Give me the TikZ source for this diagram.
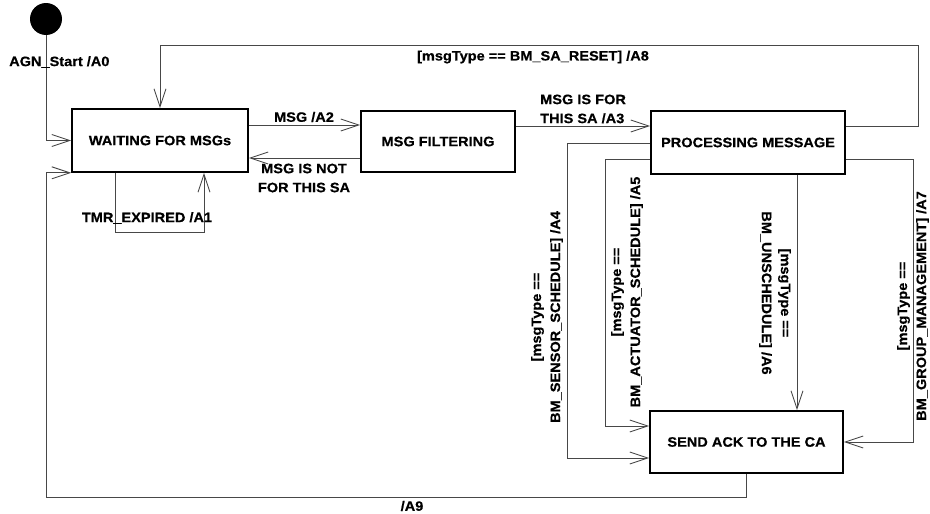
\documentclass[tikz,border=0pt]{standalone}
\usepackage{fontspec}
\setmainfont[FakeStretch=1.07,BoldFeatures={FakeBold=0.6}]{Liberation Sans}
\usetikzlibrary{arrows.meta}
\begin{document}
\begin{tikzpicture}[x=1pt,y=-1pt,
  font=\fontsize{13.6}{19}\selectfont\bfseries,
  state/.style={draw=black,line width=1.6pt,fill=white,inner sep=0pt,align=center},
  conn/.style={draw=black!72,line width=0.9pt},
  arr/.style={conn,-{Straight Barb[length=18pt,width=12pt,line width=0.9pt]}},
  lbl/.style={inner sep=0pt,align=center}]
\useasboundingbox (0,0) rectangle (930,514);
% states
\node[circle,fill=black,minimum size=32pt,inner sep=0pt] (init) at (46,19) {};
\node[state,minimum width=176pt,minimum height=63pt] (wait) at (160,140.5) {WAITING FOR MSGs};
\node[state,minimum width=154pt,minimum height=61pt] (filt) at (438,141.5) {MSG FILTERING};
\node[state,minimum width=194pt,minimum height=63pt] (proc) at (748,142.5) {PROCESSING MESSAGE};
\node[state,minimum width=193pt,minimum height=62pt] (ack) at (746.5,442) {SEND ACK TO THE CA};
% helper coordinates
\coordinate (a9) at (46,497);
\coordinate (t1) at (115,232);
\coordinate (t2) at (204,232);
\coordinate (r8a) at (918,45);
\coordinate (r8b) at (160,45);
\coordinate (c4) at (567,143);
\coordinate (c5) at (605,159);
\coordinate (c6) at (797,174);
\coordinate (c7) at (913,159);
% connectors
\draw[arr] (init.south) |- (wait.west);
\draw[arr] (ack.south) |- (a9) |- (wait.south west);
\draw[arr] (t1 |- wait.south) -- (t1) -- (t2) -- (t2 |- wait.south);
\draw[arr] (wait.east |- 0,125) -- (filt.west |- 0,125);
\draw[arr] (filt.west |- 0,158) -- (wait.east |- 0,158);
\draw[arr] (filt.east |- 0,126) -- (proc.west |- 0,126);
\draw[arr] (proc.east |- 0,126) -| (r8a) -- (r8b) -- (r8b |- wait.north);
\draw[arr] (proc.west |- c4) -- (c4) |- (ack.west |- 0,458);
\draw[arr] (proc.west |- c5) -- (c5) |- (ack.west |- 0,426);
\draw[arr] (c6 |- proc.south) -- (c6 |- ack.north);
\draw[arr] (proc.east |- c7) -- (c7) |- (ack.east);
% labels
\node[lbl,anchor=west] (l0) at (9,62) {AGN\_Start /A0};
\node[lbl] (l8) at (533,57) {[msgType == BM\_SA\_RESET] /A8};
\node[lbl] (l2) at (304,117) {MSG /A2};
\node[lbl] (ln) at (304,178) {MSG IS NOT\\FOR THIS SA};
\node[lbl,align=left,anchor=west] (l3) at (540,109) {MSG IS FOR\\THIS SA /A3};
\node[lbl] (l1) at (147,218) {TMR\_EXPIRED /A1};
\node[lbl,rotate=90] (l4) at (547,317) {[msgType ==\\BM\_SENSOR\_SCHEDULE] /A4};
\node[lbl,rotate=90] (l5) at (627,292) {[msgType ==\\BM\_ACTUATOR\_SCHEDULE] /A5};
\node[lbl,rotate=-90] (l6) at (775,293) {[msgType ==\\BM\_UNSCHEDULE] /A6};
\node[lbl,rotate=90] (l7) at (913,306) {[msgType ==\\BM\_GROUP\_MANAGEMENT] /A7};
\node[lbl] (l9) at (412,506) {/A9};
\end{tikzpicture}
\end{document}
